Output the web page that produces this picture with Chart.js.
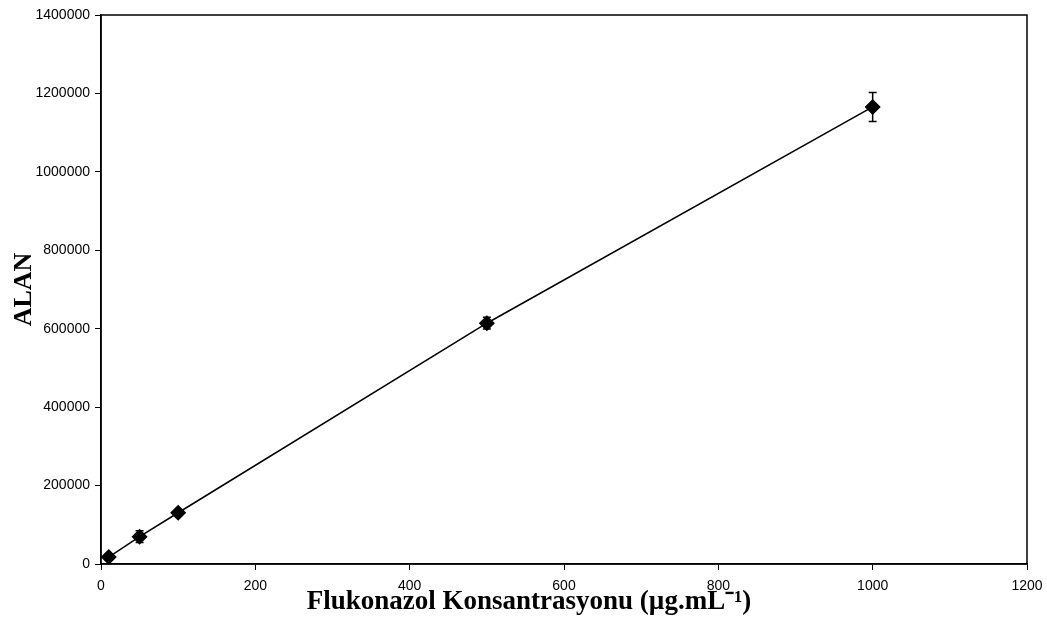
<!DOCTYPE html>
<html>
<head>
<meta charset="utf-8">
<script src="https://cdn.jsdelivr.net/npm/chart.js@4"></script>
<style>
  html, body { margin: 0; padding: 0; background: #fff; }
  #wrap { width: 1047px; height: 628px; }
</style>
</head>
<body>
<div id="wrap"><canvas id="calChart" width="1047" height="628"></canvas></div>
<script>
// Flukonazol calibration: concentration vs. peak area, with error bars
const concentrations = [10, 50, 100, 500, 1000];
const areas = [17800, 69600, 130700, 614000, 1165500];
const areaErrors = [8000, 15000, 5000, 15000, 37000];

const xTicks = [0, 200, 400, 600, 800, 1000, 1200];
const yTicks = [0, 200000, 400000, 600000, 800000, 1000000, 1200000, 1400000];

const xTitle = 'Flukonazol Konsantrasyonu (µg.mL⁻¹)';

const points = concentrations.map((c, i) => ({ x: c, y: areas[i] }));

// vertical error bars with short caps
const errorBars = {
    id: 'errorBars',
    afterDatasetsDraw(chart) {
        const ctx = chart.ctx;
        const xs = chart.scales.x, ys = chart.scales.y;
        ctx.save();
        ctx.strokeStyle = '#000';
        ctx.lineWidth = 1.5;
        concentrations.forEach((c, i) => {
            const px = xs.getPixelForValue(c);
            const top = ys.getPixelForValue(areas[i] + areaErrors[i]);
            const bot = ys.getPixelForValue(areas[i] - areaErrors[i]);
            ctx.beginPath();
            ctx.moveTo(px, top); ctx.lineTo(px, bot);
            ctx.moveTo(px - 4, top); ctx.lineTo(px + 4, top);
            ctx.moveTo(px - 4, bot); ctx.lineTo(px + 4, bot);
            ctx.stroke();
        });
        ctx.restore();
    }
};

// box around the plot area, plus the x title set a little left of centre
const frame = {
    id: 'frame',
    afterDraw(chart) {
        const a = chart.chartArea;
        const ctx = chart.ctx;
        ctx.save();
        ctx.strokeStyle = '#000';
        ctx.lineWidth = 1.5;
        ctx.strokeRect(a.left, a.top, a.right - a.left, a.bottom - a.top);
        ctx.fillStyle = '#000';
        ctx.font = 'bold 27px "Liberation Serif", "Times New Roman", serif';
        ctx.textAlign = 'center';
        ctx.textBaseline = 'middle';
        ctx.fillText(xTitle, 529, a.bottom + 38);
        ctx.restore();
    }
};

const tickFont = { family: '"Liberation Sans", Arial, sans-serif', size: 14 };
const titleFont = { family: '"Liberation Serif", "Times New Roman", serif', size: 26, weight: 'bold' };

new Chart(document.getElementById('calChart'), {
    type: 'scatter',
    data: {
        datasets: [{
            data: points,
            showLine: true,
            borderColor: '#000',
            borderWidth: 1.5,
            backgroundColor: '#000',
            pointStyle: 'rectRot',
            pointRadius: 7,
            pointHoverRadius: 7
        }]
    },
    options: {
        responsive: false,
        animation: false,
        layout: { padding: { top: 15, right: 20, left: 0, bottom: 0 } },
        plugins: {
            legend: { display: false },
            tooltip: { enabled: false }
        },
        scales: {
            x: {
                type: 'linear',
                min: 0,
                max: 1200,
                afterBuildTicks: (s) => { s.ticks = xTicks.map(v => ({ value: v })); },
                afterFit: (s) => { s.height = 64; s.paddingRight = 0; s.paddingLeft = 0; },
                ticks: {
                    color: '#000',
                    font: tickFont,
                    padding: 8,
                    maxRotation: 0,
                    callback: (v) => String(v)
                },
                grid: { drawOnChartArea: false, tickLength: 6, color: '#000', lineWidth: 1 },
                border: { color: '#000', width: 1.5 }
            },
            y: {
                type: 'linear',
                min: 0,
                max: 1400000,
                afterBuildTicks: (s) => { s.ticks = yTicks.map(v => ({ value: v })); },
                afterFit: (s) => { s.width = 101; },
                ticks: {
                    color: '#000',
                    font: tickFont,
                    padding: 5,
                    callback: (v) => String(v)
                },
                grid: { drawOnChartArea: false, tickLength: 6, color: '#000', lineWidth: 1 },
                border: { color: '#000', width: 1.5 },
                title: {
                    display: true,
                    text: 'ALAN',
                    color: '#000',
                    font: titleFont,
                    padding: { top: 9, bottom: 4 }
                }
            }
        }
    },
    plugins: [errorBars, frame]
});
</script>
</body>
</html>
